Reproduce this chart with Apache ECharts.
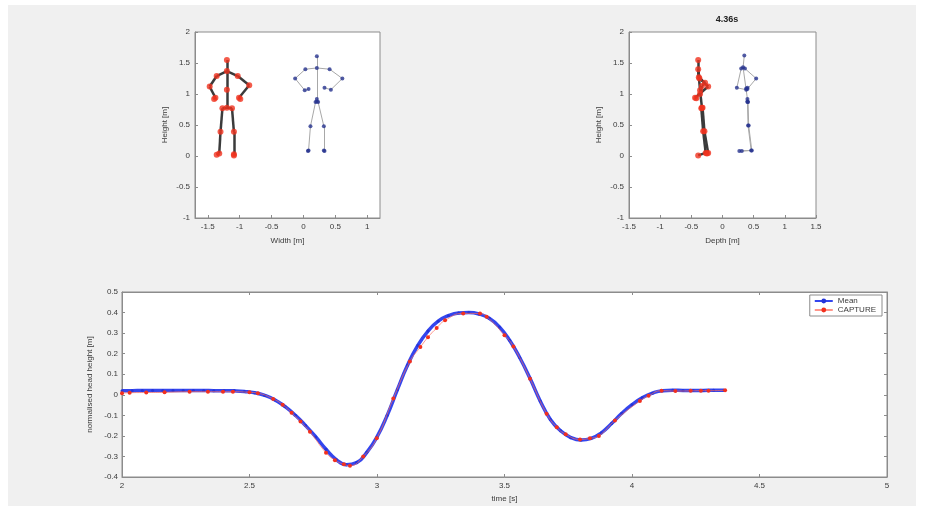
<!DOCTYPE html>
<html>
<head>
<meta charset="utf-8">
<script src="https://cdn.jsdelivr.net/npm/echarts@6/dist/echarts.min.js"></script>
<style>
  html, body { margin: 0; padding: 0; background: #fff; }
  #chart { width: 933px; height: 513px; }
</style>
</head>
<body>
<div id="chart"></div>
<script>
// joint order (kinect style): head, shoulderCenter, shoulderL, elbowL, wristL, handL,
// shoulderR, elbowR, wristR, handR, spine, hipCenter, hipL, kneeL, ankleL, footL, hipR, kneeR, ankleR, footR
const bones = [[0,1],[1,2],[2,3],[3,4],[4,5],[1,6],[6,7],[7,8],[8,9],[1,10],[10,11],
  [11,12],[12,13],[13,14],[14,15],[11,16],[16,17],[17,18],[18,19]];

const captureFront = [[-1.20,1.55],[-1.20,1.37],[-1.36,1.29],[-1.47,1.12],[-1.38,0.94],[-1.40,0.92],
  [-1.03,1.29],[-0.85,1.14],[-1.01,0.94],[-0.99,0.92],[-1.20,1.07],[-1.20,0.78],[-1.27,0.77],
  [-1.30,0.39],[-1.32,0.04],[-1.36,0.02],[-1.12,0.77],[-1.09,0.39],[-1.09,0.03],[-1.09,0.01]];
const kinectFront = [[0.21,1.61],[0.21,1.42],[0.03,1.40],[-0.13,1.25],[0.02,1.06],[0.08,1.08],
  [0.41,1.40],[0.61,1.25],[0.43,1.07],[0.33,1.10],[0.21,0.92],[0.21,0.88],[0.19,0.87],
  [0.11,0.48],[0.08,0.09],[0.07,0.08],[0.23,0.87],[0.32,0.48],[0.32,0.09],[0.33,0.08]];
const captureSide = [[-0.39,1.55],[-0.39,1.40],[-0.38,1.27],[-0.23,1.12],[-0.44,0.94],[-0.42,0.93],
  [-0.37,1.25],[-0.28,1.18],[-0.33,1.13],[-0.36,1.00],[-0.36,1.06],[-0.33,0.78],[-0.34,0.77],
  [-0.31,0.40],[-0.27,0.05],[-0.39,0.01],[-0.32,0.78],[-0.29,0.40],[-0.23,0.05],[-0.25,0.04]];
const kinectSide = [[0.35,1.62],[0.33,1.43],[0.36,1.41],[0.54,1.25],[0.40,1.08],[0.38,1.09],
  [0.30,1.41],[0.23,1.10],[0.38,1.07],[0.40,1.10],[0.40,0.92],[0.40,0.88],[0.40,0.87],
  [0.41,0.49],[0.46,0.09],[0.27,0.08],[0.41,0.87],[0.42,0.49],[0.47,0.09],[0.31,0.08]];

const frameTitle = '4.36s';
const frontTicks = [-1.5, -1, -0.5, 0, 0.5, 1];

// head height traces
const meanTime = [2.00,2.04,2.08,2.12,2.16,2.20,2.24,2.28,2.32,2.36,2.40,2.44,2.48,2.52,2.56,2.60,
  2.64,2.68,2.72,2.76,2.80,2.84,2.88,2.92,2.96,3.00,3.04,3.08,3.12,3.16,3.20,3.24,3.28,3.32,3.36,
  3.40,3.44,3.48,3.52,3.56,3.60,3.64,3.68,3.72,3.76,3.80,3.84,3.88,3.92,3.96,4.00,4.04,4.08,4.12,
  4.16,4.20,4.24,4.28,4.32,4.36];
const meanHeight = [0.020,0.020,0.021,0.021,0.021,0.021,0.021,0.021,0.021,0.020,0.020,0.019,0.016,
  0.010,-0.003,-0.025,-0.058,-0.100,-0.150,-0.205,-0.265,-0.315,-0.340,-0.330,-0.280,-0.205,-0.100,
  0.025,0.145,0.240,0.310,0.358,0.385,0.398,0.400,0.393,0.372,0.330,0.265,0.180,0.080,-0.030,
  -0.120,-0.175,-0.208,-0.220,-0.212,-0.185,-0.140,-0.090,-0.048,-0.015,0.008,0.020,0.022,0.021,
  0.021,0.021,0.022,0.022];
const captureTime = [2.00,2.03,2.095,2.167,2.265,2.337,2.396,2.435,2.50,2.533,2.593,2.63,2.665,2.70,
  2.737,2.80,2.835,2.87,2.894,2.946,2.999,3.064,3.129,3.17,3.20,3.234,3.267,3.338,3.404,3.43,3.50,
  3.535,3.60,3.665,3.705,3.74,3.796,3.835,3.87,3.933,4.031,4.065,4.116,4.17,4.23,4.27,4.30,4.365];
const captureHeight = [0.008,0.010,0.011,0.012,0.015,0.015,0.015,0.015,0.012,0.008,-0.020,-0.048,
  -0.088,-0.130,-0.180,-0.282,-0.318,-0.338,-0.345,-0.300,-0.212,-0.018,0.162,0.232,0.280,0.325,
  0.362,0.396,0.395,0.380,0.290,0.235,0.078,-0.092,-0.158,-0.192,-0.217,-0.212,-0.200,-0.125,
  -0.030,-0.005,0.020,0.018,0.019,0.020,0.020,0.022];

const zip = (a, b) => a.map((v, i) => [v, b[i]]);
const boneLines = joints => bones.map(b => ({ coords: [joints[b[0]], joints[b[1]]] }));

const txt = '#3a3a3a';
const frame = '#8c8c8c';
const labelStyle = { color: txt, fontSize: 8, fontFamily: 'Liberation Sans' };
const nameStyle = { color: txt, fontSize: 8, fontFamily: 'Liberation Sans' };

function valAxis(extra) {
  return Object.assign({
    type: 'value',
    axisLine: { show: true, onZero: false, lineStyle: { color: frame, width: 1 } },
    axisTick: { show: true, inside: true, length: 3, lineStyle: { color: frame } },
    axisLabel: Object.assign({ margin: 5 }, labelStyle),
    splitLine: { show: false },
    nameLocation: 'middle',
    nameTextStyle: nameStyle
  }, extra);
}

function skeleton(joints, grid, lineColor, lineWidth, dotColor, dotSize) {
  return [
    {
      type: 'lines', coordinateSystem: 'cartesian2d', xAxisIndex: grid, yAxisIndex: grid,
      data: boneLines(joints), silent: true,
      lineStyle: { color: lineColor, width: lineWidth, opacity: 1 }, z: 2
    },
    {
      type: 'scatter', xAxisIndex: grid, yAxisIndex: grid, data: joints,
      symbol: 'circle', symbolSize: dotSize, itemStyle: { color: dotColor }, z: 3
    }
  ];
}

const chart = echarts.init(document.getElementById('chart'));

chart.setOption({
  animation: false,
  backgroundColor: '#fff',
  graphic: [{
    type: 'rect', shape: { x: 8, y: 5, width: 908, height: 501 },
    style: { fill: '#f0f0f0' }, z: -20, silent: true
  }],
  title: {
    text: frameTitle, left: 722, top: 10, textAlign: 'center',
    textStyle: { fontSize: 9, fontWeight: 'bold', color: '#222', fontFamily: 'Liberation Sans' }
  },
  grid: [
    { left: 195, top: 32, width: 185, height: 186, show: true, backgroundColor: '#fff', borderColor: frame },
    { left: 629, top: 32, width: 187, height: 186, show: true, backgroundColor: '#fff', borderColor: frame },
    { left: 122, top: 292, width: 765, height: 185, show: true, backgroundColor: '#fff', borderColor: frame }
  ],
  legend: {
    data: ['Mean', 'CAPTURE'], orient: 'vertical', right: 51, top: 295,
    backgroundColor: '#fff', borderColor: frame, borderWidth: 1, padding: [2, 6, 2, 4],
    itemGap: 1, itemWidth: 18, itemHeight: 6,
    textStyle: { fontSize: 8, color: txt, fontFamily: 'Liberation Sans' }
  },
  xAxis: [
    valAxis({
      gridIndex: 0, min: -1.7, max: 1.2, name: 'Width [m]', nameGap: 19,
      axisTick: { show: true, inside: true, length: 3, lineStyle: { color: frame }, customValues: frontTicks },
      axisLabel: Object.assign({ margin: 5, customValues: frontTicks }, labelStyle)
    }),
    valAxis({ gridIndex: 1, min: -1.5, max: 1.5, interval: 0.5, name: 'Depth [m]', nameGap: 19 }),
    valAxis({ gridIndex: 2, min: 2, max: 5, interval: 0.5, name: 'time [s]', nameGap: 18 }),
    valAxis({ gridIndex: 2, min: 2, max: 5, interval: 0.5, position: 'top', axisLabel: { show: false } })
  ],
  yAxis: [
    valAxis({ gridIndex: 0, min: -1, max: 2, interval: 0.5, name: 'Height [m]', nameGap: 26 }),
    valAxis({ gridIndex: 1, min: -1, max: 2, interval: 0.5, name: 'Height [m]', nameGap: 26 }),
    valAxis({ gridIndex: 2, min: -0.4, max: 0.5, interval: 0.1, name: 'normalised head height [m]', nameGap: 27,
      axisLabel: Object.assign({ margin: 4 }, labelStyle) }),
    valAxis({ gridIndex: 2, min: -0.4, max: 0.5, interval: 0.1, position: 'right', axisLabel: { show: false } })
  ],
  series: [
    ...skeleton(captureFront, 0, '#3b3b3b', 2.5, '#f0321e', 6),
    ...skeleton(kinectFront, 0, '#a8a8a8', 1, '#27338f', 4),
    ...skeleton(captureSide, 1, '#3b3b3b', 2.5, '#f0321e', 6),
    ...skeleton(kinectSide, 1, '#a8a8a8', 1, '#27338f', 4),
    {
      name: 'Mean', type: 'line', xAxisIndex: 2, yAxisIndex: 2,
      data: zip(meanTime, meanHeight), smooth: true,
      symbol: 'circle', symbolSize: 3, showSymbol: true,
      lineStyle: { color: '#3446ee', width: 3.5 }, itemStyle: { color: '#2535d8' }, z: 4
    },
    {
      name: 'CAPTURE', type: 'line', xAxisIndex: 2, yAxisIndex: 2,
      data: zip(captureTime, captureHeight), smooth: true,
      symbol: 'circle', symbolSize: 4, showSymbol: true,
      lineStyle: { color: '#ff6a5a', width: 1, opacity: 0.7 }, itemStyle: { color: '#f2301e' }, z: 5
    }
  ]
});
</script>
</body>
</html>
